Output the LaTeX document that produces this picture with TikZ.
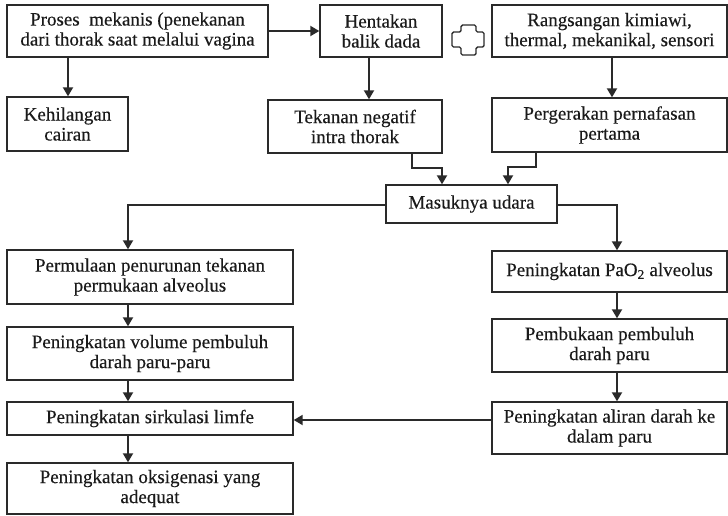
\documentclass[tikz,border=0pt]{standalone}
\usepackage{fontspec}
\setmainfont{Liberation Serif}
\usetikzlibrary{arrows.meta}
\definecolor{ink}{HTML}{1A1A1A}
\definecolor{edge}{HTML}{2A2A2A}
\begin{document}
\begin{tikzpicture}[x=1pt,y={(0pt,-1pt)},
  box/.style={draw=edge, line width=1.4pt, fill=white, inner sep=0pt,
    align=center, text=ink, font=\fontsize{19}{20}\selectfont\addfontfeature{FakeBold=0.3}},
  flow/.style={draw=edge, line width=1.9pt,
    -{Triangle[width=10pt,length=9pt]}},
  link/.style={draw=edge, line width=1.9pt}]
\useasboundingbox (0,0) rectangle (728,515);
\fill[white] (0,0) rectangle (728,515);

% top row
\node[box, minimum width=261, minimum height=52] (proses) at (137.5,31)
  {\fontsize{19}{17}\selectfont Proses\ \ mekanis (penekanan\\dari thorak saat melalui vagina};
\node[box, minimum width=122, minimum height=52] (hentakan) at (381,31)
  {Hentakan\\balik dada};
\node[box, minimum width=235, minimum height=52] (rangsang) at (609.5,31)
  {Rangsangan kimiawi,\\thermal, mekanikal, sensori};

% plus sign between the two upper boxes
\draw[edge, line width=1.4pt, rounded corners=1.5pt]
  (461,25) -- (476,25) -- (476,32) -- (484,32) -- (484,47) -- (476,47)
  -- (476,55) -- (461,55) -- (461,47) -- (452,47) -- (452,32) -- (461,32) -- cycle;

% second row
\node[box, minimum width=121, minimum height=54] (kehilangan) at (67.5,124)
  {Kehilangan\\cairan};
\node[box, minimum width=174, minimum height=53] (tekanan) at (355,126.5)
  {Tekanan negatif\\intra thorak};
\node[box, minimum width=235, minimum height=54] (gerak) at (609.5,125)
  {Pergerakan pernafasan\\pertama};

% centre
\node[box, minimum width=171, minimum height=38] (udara) at (471.5,204)
  {Masuknya udara};

% left column
\node[box, minimum width=286, minimum height=54] (permulaan) at (150,277)
  {Permulaan penurunan tekanan\\permukaan alveolus};
\node[box, minimum width=286, minimum height=53] (volume) at (150,353.5)
  {Peningkatan volume pembuluh\\darah paru-paru};
\node[box, minimum width=286, minimum height=33] (limfe) at (150,418.5)
  {Peningkatan sirkulasi limfe};
\node[box, minimum width=286, minimum height=51] (oksigen) at (150,488.5)
  {Peningkatan oksigenasi yang\\adequat};

% right column
\node[box, minimum width=235, minimum height=41] (pao) at (609.5,271.5)
  {Peningkatan PaO\textsubscript{2} alveolus};
\node[box, minimum width=235, minimum height=53] (buka) at (609.5,345.5)
  {Pembukaan pembuluh\\darah paru};
\node[box, minimum width=235, minimum height=52] (aliran) at (609.5,428)
  {Peningkatan aliran darah ke\\dalam paru};

% helper points for the elbow connectors
\coordinate (lcol) at (128,0);
\coordinate (rcol) at (617,0);

% connectors
\draw[flow] (proses.east) -- (hentakan.west);
\draw[flow] (proses.south -| 68,0) -- (kehilangan.north -| 68,0);
\draw[flow] ([xshift=-12pt]hentakan.south) -- ([xshift=-12pt]hentakan.south |- tekanan.north);
\draw[flow] ([xshift=2.5pt]rangsang.south) -- ([xshift=2.5pt]rangsang.south |- gerak.north);

\draw[flow] ([xshift=57pt]tekanan.south) |- ++(0,14) -| ([xshift=-29.5pt]udara.north);
\draw[flow] ([xshift=-73.5pt]gerak.south) |- ++(0,14) -| ([xshift=36.5pt]udara.north);

\draw[flow] ([yshift=-1pt]udara.west) -| (lcol |- permulaan.north);
\draw[flow] ([yshift=-1pt]udara.east) -| (rcol |- pao.north);

\draw[flow] (lcol |- permulaan.south) -- (lcol |- volume.north);
\draw[flow] (lcol |- volume.south) -- (lcol |- limfe.north);
\draw[flow] (lcol |- limfe.south) -- (lcol |- oksigen.north);

\draw[flow] (rcol |- pao.south) -- (rcol |- buka.north);
\draw[flow] (rcol |- buka.south) -- (rcol |- aliran.north);

\draw[flow] ([yshift=8pt]aliran.west) -- ([yshift=8pt]aliran.west -| limfe.east);
\end{tikzpicture}
\end{document}
